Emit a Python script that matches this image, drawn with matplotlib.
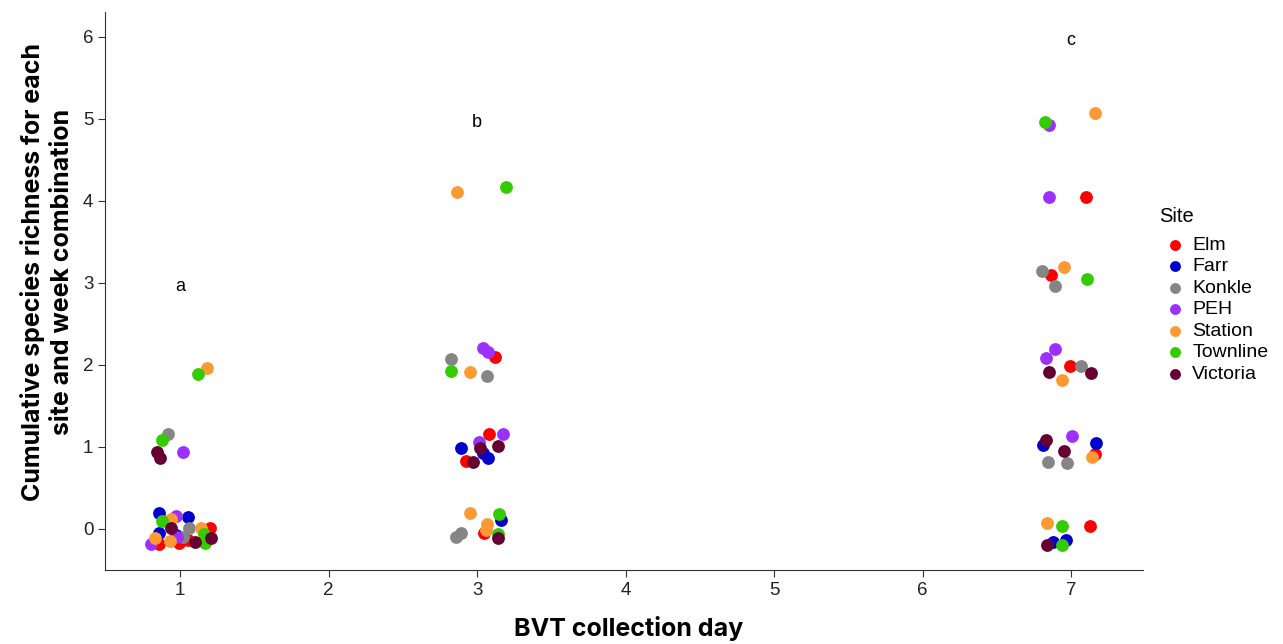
import matplotlib
matplotlib.use('Agg')
from matplotlib import pyplot as plt

# jittered positions: (collection day + jitter, richness + jitter)
elm_x = [1.20, 0.854, 0.99, 1.054, 2.926, 3.083, 3.12, 3.047, 7.10, 6.865, 6.993, 7.16, 7.13]
elm_y = [0.01, -0.187, -0.17, -0.13, 0.83, 1.155, 2.10, -0.05, 4.05, 3.10, 1.99, 0.915, 0.04]

farr_x = [0.854, 1.05, 0.854, 0.975, 2.89, 3.04, 3.076, 3.16, 6.81, 7.17, 6.88, 6.965]
farr_y = [0.20, 0.15, -0.05, -0.08, 0.99, 0.92, 0.87, 0.11, 1.02, 1.045, -0.155, -0.14]

konkle_x = [0.92, 1.056, 1.022, 2.825, 3.065, 2.89, 2.86, 6.807, 6.892, 7.067, 6.844, 6.97]
konkle_y = [1.16, 0.016, -0.094, 2.07, 1.86, -0.05, -0.10, 3.14, 2.96, 1.99, 0.82, 0.80]

peh_x = [1.02, 0.971, 0.805, 0.98, 3.04, 3.076, 3.015, 3.177, 6.854, 6.852, 6.892, 6.83, 7.005]
peh_y = [0.943, 0.16, -0.187, -0.10, 2.20, 2.16, 1.065, 1.155, 4.92, 4.045, 2.195, 2.09, 1.13]

station_x = [1.18, 0.94, 0.83, 0.933, 1.14, 2.863, 2.953, 2.953, 3.065, 3.06, 7.16, 6.955, 6.94, 7.14, 6.84]
station_y = [1.96, 0.12, -0.106, -0.146, 0.016, 4.106, 1.91, 0.19, 0.06, -0.01, 5.07, 3.19, 1.82, 0.88, 0.07]

townline_x = [1.12, 0.877, 0.877, 1.157, 1.168, 3.195, 2.825, 3.15, 3.143, 6.825, 7.11, 6.94, 6.94]
townline_y = [1.89, 1.085, 0.10, -0.065, -0.174, 4.175, 1.92, 0.18, -0.06, 4.96, 3.05, 0.03, -0.195]

victoria_x = [0.843, 0.865, 0.94, 1.10, 1.21, 3.02, 3.137, 2.975, 3.143, 6.852, 7.135, 6.83, 6.955, 6.84]
victoria_y = [0.943, 0.862, 0.01, -0.16, -0.106, 0.99, 1.016, 0.81, -0.11, 1.91, 1.90, 1.08, 0.95, -0.195]

sites = ['Elm', 'Farr', 'Konkle', 'PEH', 'Station', 'Townline', 'Victoria']
colors = ['#FF0000', '#0000CD', '#858585', '#9B30FF', '#FF9933', '#33CC00', '#660033']
xs = [elm_x, farr_x, konkle_x, peh_x, station_x, townline_x, victoria_x]
ys = [elm_y, farr_y, konkle_y, peh_y, station_y, townline_y, victoria_y]

letters = ['a', 'b', 'c']
letter_x = [1, 3, 7]
letter_y = [2.96, 4.96, 5.96]

fig = plt.figure(figsize=(12.83, 6.44), dpi=100)
ax = fig.add_axes([0.082, 0.115, 0.809, 0.866])

for site, c, x, y in zip(sites, colors, xs, ys):
    ax.scatter(x, y, s=85, color=c, label=site, linewidths=0, zorder=3)

for t, x, y in zip(letters, letter_x, letter_y):
    ax.text(x, y, t, ha='center', va='center', fontsize=13, family='Liberation Sans')

ax.set_xlim(0.495, 7.485)
ax.set_ylim(-0.5, 6.3)
ax.set_xticks(range(1, 8))
ax.set_yticks(range(0, 7))
ax.spines['top'].set_visible(False)
ax.spines['right'].set_visible(False)
for s in ['left', 'bottom']:
    ax.spines[s].set_color('#333333')
ax.tick_params(labelsize=13.5, length=5, color='#333333', labelcolor='#222222')
for lab in ax.get_xticklabels() + ax.get_yticklabels():
    lab.set_family('Liberation Sans')

ax.set_xlabel('BVT collection day', fontsize=18, fontweight='bold', family='Inter')
ax.xaxis.set_label_coords(0.504, -0.083)
ax.set_ylabel('Cumulative species richness for each\nsite and week combination', fontsize=18,
              fontweight='bold', family='Inter', linespacing=1.35)
ax.yaxis.set_label_coords(-0.030, 0.535)

leg = fig.legend(loc='upper left', bbox_to_anchor=(0.893, 0.700), frameon=False,
                 title='Site', markerscale=0.85, handletextpad=0.1, labelspacing=0.2,
                 handlelength=1.6, borderpad=0.2,
                 prop={'family': 'Liberation Sans', 'size': 14})
leg.get_title().set_fontsize(14.5)
leg.get_title().set_family('Liberation Sans')
leg._legend_box.align = 'left'
leg._legend_box.sep = 7.5

plt.savefig('out.png', dpi=100)
